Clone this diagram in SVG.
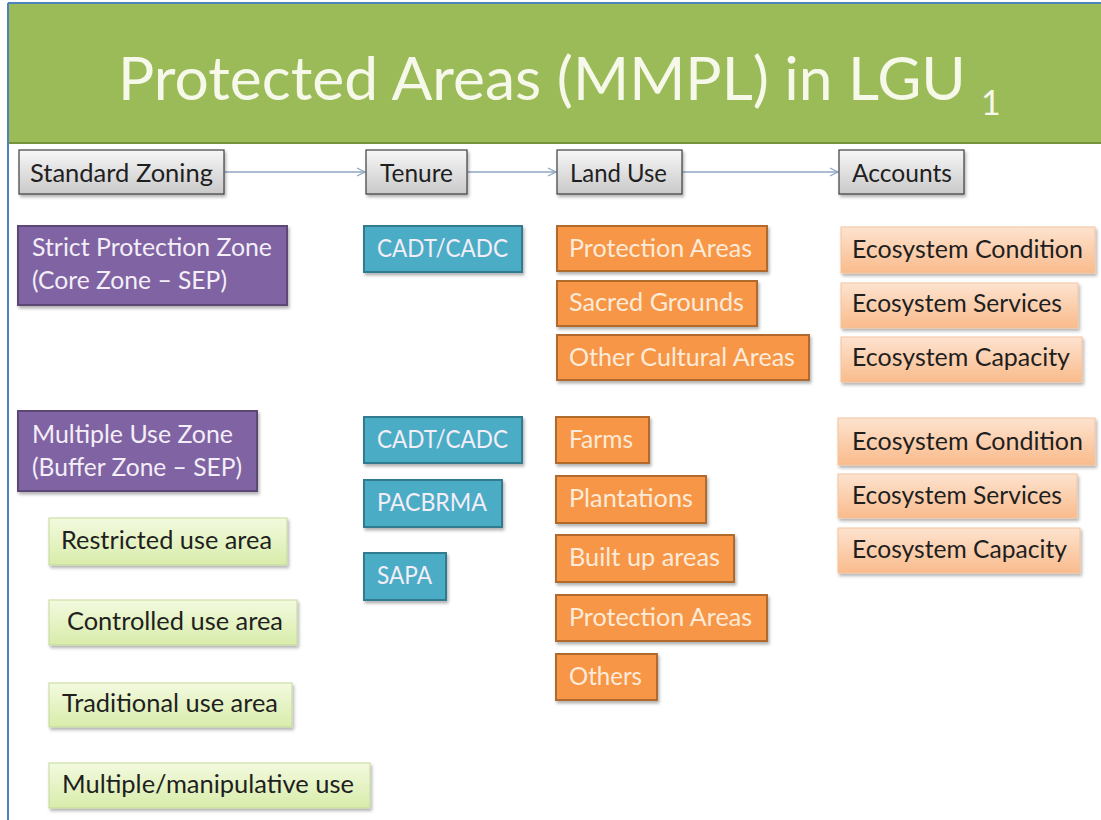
<svg xmlns="http://www.w3.org/2000/svg" width="1101" height="820" viewBox="0 0 1101 820">
<defs>
<linearGradient id="gGray" x1="0" y1="0" x2="0" y2="1"><stop offset="0" stop-color="#f7f7f7"/><stop offset="1" stop-color="#c9c9c9"/></linearGradient>
<linearGradient id="gPeach" x1="0" y1="0" x2="0" y2="1"><stop offset="0" stop-color="#fde3cf"/><stop offset="1" stop-color="#f9bb8c"/></linearGradient>
<linearGradient id="gLime" x1="0" y1="0" x2="0" y2="1"><stop offset="0" stop-color="#f3fadf"/><stop offset="1" stop-color="#d8ecaa"/></linearGradient>
<filter id="sh" x="-10%" y="-20%" width="125%" height="150%"><feDropShadow dx="1.5" dy="2.5" stdDeviation="1.5" flood-color="#000" flood-opacity="0.3"/></filter>
<marker id="arr" viewBox="0 0 10 10" refX="9" refY="5" markerWidth="10" markerHeight="10" markerUnits="userSpaceOnUse" orient="auto"><path d="M1,1 L9,5 L1,9" fill="none" stroke="#8fa6c4" stroke-width="1.3"/></marker>
</defs>
<style>
text{font-family:Lato,"Liberation Sans",sans-serif;font-size:25px}
.hdr{fill:url(#gGray);stroke:#3f3f3f;stroke-width:1.2}
.purple{fill:#8064a2;stroke:#5c4675;stroke-width:2}
.teal{fill:#4bacc6;stroke:#327a8e;stroke-width:2}
.orange{fill:#f79646;stroke:#b06a2d;stroke-width:2}
.peach{fill:url(#gPeach);stroke:#f4c39c;stroke-width:1}
.lime{fill:url(#gLime);stroke:#c5d99e;stroke-width:1}
.dark{fill:#1f1f1f}
.light{fill:#f3eef8}
.lightw{fill:#fdebd9}
.conn{stroke:#8fa6c4;stroke-width:1.3;fill:none}
</style>
<rect width="1101" height="820" fill="#ffffff"/>
<g id="title">
<rect x="9" y="4" width="1092" height="140" fill="#9bbb59"/>
<line x1="9" y1="143" x2="1101" y2="143" stroke="#76923c" stroke-width="2"/>
<line x1="8" y1="3" x2="1101" y2="3" stroke="#4f81bd" stroke-width="2"/>
<line x1="8" y1="3" x2="8" y2="820" stroke="#4f81bd" stroke-width="2"/>
<text x="118" y="100" style="font-size:60.5px" fill="#f6f9ea">Protected Areas (MMPL) in LGU</text>
<text x="981" y="115" style="font-size:34px" fill="#f6f9ea">1</text>
</g>
<g id="connectors">
<line class="conn" x1="225" y1="172" x2="365" y2="172" marker-end="url(#arr)"/>
<line class="conn" x1="468" y1="172" x2="556" y2="172" marker-end="url(#arr)"/>
<line class="conn" x1="683" y1="172" x2="838" y2="172" marker-end="url(#arr)"/>
</g>
<g id="standard-zoning"><rect class="hdr" x="19" y="150" width="205" height="44" filter="url(#sh)"/><text class="dark" x="30" y="182" textLength="183" lengthAdjust="spacingAndGlyphs">Standard Zoning</text></g>
<g id="tenure"><rect class="hdr" x="366" y="150" width="101" height="44" filter="url(#sh)"/><text class="dark" x="380" y="182" textLength="73" lengthAdjust="spacingAndGlyphs">Tenure</text></g>
<g id="land-use"><rect class="hdr" x="557" y="150" width="125" height="44" filter="url(#sh)"/><text class="dark" x="570" y="182" textLength="97" lengthAdjust="spacingAndGlyphs">Land Use</text></g>
<g id="accounts"><rect class="hdr" x="839" y="150" width="125" height="44" filter="url(#sh)"/><text class="dark" x="852" y="182" textLength="100" lengthAdjust="spacingAndGlyphs">Accounts</text></g>

<g id="strict-protection"><rect class="purple" x="18" y="226" width="269" height="79" filter="url(#sh)"/><text class="light" x="32" y="256" textLength="240" lengthAdjust="spacingAndGlyphs">Strict Protection Zone</text><text class="light" x="32" y="289" textLength="195" lengthAdjust="spacingAndGlyphs">(Core Zone – SEP)</text></g>
<g id="cadt1"><rect class="teal" x="364" y="226" width="158" height="46" filter="url(#sh)"/><text class="light" x="377" y="257" textLength="131" lengthAdjust="spacingAndGlyphs">CADT/CADC</text></g>
<g id="protection-areas1"><rect class="orange" x="557" y="226" width="210" height="45" filter="url(#sh)"/><text class="lightw" x="569" y="257" textLength="183" lengthAdjust="spacingAndGlyphs">Protection Areas</text></g>
<g id="sacred-grounds"><rect class="orange" x="557" y="281" width="200" height="45" filter="url(#sh)"/><text class="lightw" x="569" y="311" textLength="175" lengthAdjust="spacingAndGlyphs">Sacred Grounds</text></g>
<g id="other-cultural"><rect class="orange" x="557" y="335" width="252" height="45" filter="url(#sh)"/><text class="lightw" x="569" y="366" textLength="226" lengthAdjust="spacingAndGlyphs">Other Cultural Areas</text></g>
<g id="eco-condition1"><rect class="peach" x="841" y="227" width="254" height="46" filter="url(#sh)"/><text class="dark" x="852" y="258" textLength="231" lengthAdjust="spacingAndGlyphs">Ecosystem Condition</text></g>
<g id="eco-services1"><rect class="peach" x="841" y="283" width="237" height="45" filter="url(#sh)"/><text class="dark" x="852" y="312" textLength="210" lengthAdjust="spacingAndGlyphs">Ecosystem Services</text></g>
<g id="eco-capacity1"><rect class="peach" x="841" y="337" width="241" height="45" filter="url(#sh)"/><text class="dark" x="852" y="366" textLength="218" lengthAdjust="spacingAndGlyphs">Ecosystem Capacity</text></g>

<g id="multiple-use"><rect class="purple" x="18" y="411" width="239" height="80" filter="url(#sh)"/><text class="light" x="32" y="443" textLength="201" lengthAdjust="spacingAndGlyphs">Multiple Use Zone</text><text class="light" x="32" y="476" textLength="210" lengthAdjust="spacingAndGlyphs">(Buffer Zone – SEP)</text></g>
<g id="restricted"><rect class="lime" x="49" y="518" width="238" height="47" filter="url(#sh)"/><text class="dark" x="61" y="549" textLength="211" lengthAdjust="spacingAndGlyphs">Restricted use area</text></g>
<g id="controlled"><rect class="lime" x="49" y="600" width="248" height="45" filter="url(#sh)"/><text class="dark" x="67" y="630" textLength="216" lengthAdjust="spacingAndGlyphs">Controlled use area</text></g>
<g id="traditional"><rect class="lime" x="49" y="683" width="243" height="44" filter="url(#sh)"/><text class="dark" x="62" y="712" textLength="216" lengthAdjust="spacingAndGlyphs">Traditional use area</text></g>
<g id="manipulative"><rect class="lime" x="49" y="763" width="321" height="45" filter="url(#sh)"/><text class="dark" x="62" y="793" textLength="292" lengthAdjust="spacingAndGlyphs">Multiple/manipulative use</text></g>

<g id="cadt2"><rect class="teal" x="364" y="417" width="158" height="46" filter="url(#sh)"/><text class="light" x="377" y="448" textLength="131" lengthAdjust="spacingAndGlyphs">CADT/CADC</text></g>
<g id="pacbrma"><rect class="teal" x="364" y="480" width="138" height="47" filter="url(#sh)"/><text class="light" x="377" y="511" textLength="110" lengthAdjust="spacingAndGlyphs">PACBRMA</text></g>
<g id="sapa"><rect class="teal" x="364" y="553" width="82" height="47" filter="url(#sh)"/><text class="light" x="377" y="584" textLength="55" lengthAdjust="spacingAndGlyphs">SAPA</text></g>

<g id="farms"><rect class="orange" x="556" y="417" width="93" height="46" filter="url(#sh)"/><text class="lightw" x="569" y="448" textLength="64" lengthAdjust="spacingAndGlyphs">Farms</text></g>
<g id="plantations"><rect class="orange" x="556" y="476" width="150" height="47" filter="url(#sh)"/><text class="lightw" x="569" y="507" textLength="124" lengthAdjust="spacingAndGlyphs">Plantations</text></g>
<g id="built-up"><rect class="orange" x="556" y="535" width="178" height="47" filter="url(#sh)"/><text class="lightw" x="569" y="566" textLength="151" lengthAdjust="spacingAndGlyphs">Built up areas</text></g>
<g id="protection-areas2"><rect class="orange" x="556" y="595" width="211" height="46" filter="url(#sh)"/><text class="lightw" x="569" y="626" textLength="183" lengthAdjust="spacingAndGlyphs">Protection Areas</text></g>
<g id="others"><rect class="orange" x="556" y="654" width="101" height="46" filter="url(#sh)"/><text class="lightw" x="569" y="685" textLength="73" lengthAdjust="spacingAndGlyphs">Others</text></g>

<g id="eco-condition2"><rect class="peach" x="838" y="418" width="257" height="47" filter="url(#sh)"/><text class="dark" x="852" y="450" textLength="231" lengthAdjust="spacingAndGlyphs">Ecosystem Condition</text></g>
<g id="eco-services2"><rect class="peach" x="838" y="474" width="239" height="44" filter="url(#sh)"/><text class="dark" x="852" y="504" textLength="210" lengthAdjust="spacingAndGlyphs">Ecosystem Services</text></g>
<g id="eco-capacity2"><rect class="peach" x="838" y="528" width="242" height="45" filter="url(#sh)"/><text class="dark" x="852" y="558" textLength="215" lengthAdjust="spacingAndGlyphs">Ecosystem Capacity</text></g>
</svg>
